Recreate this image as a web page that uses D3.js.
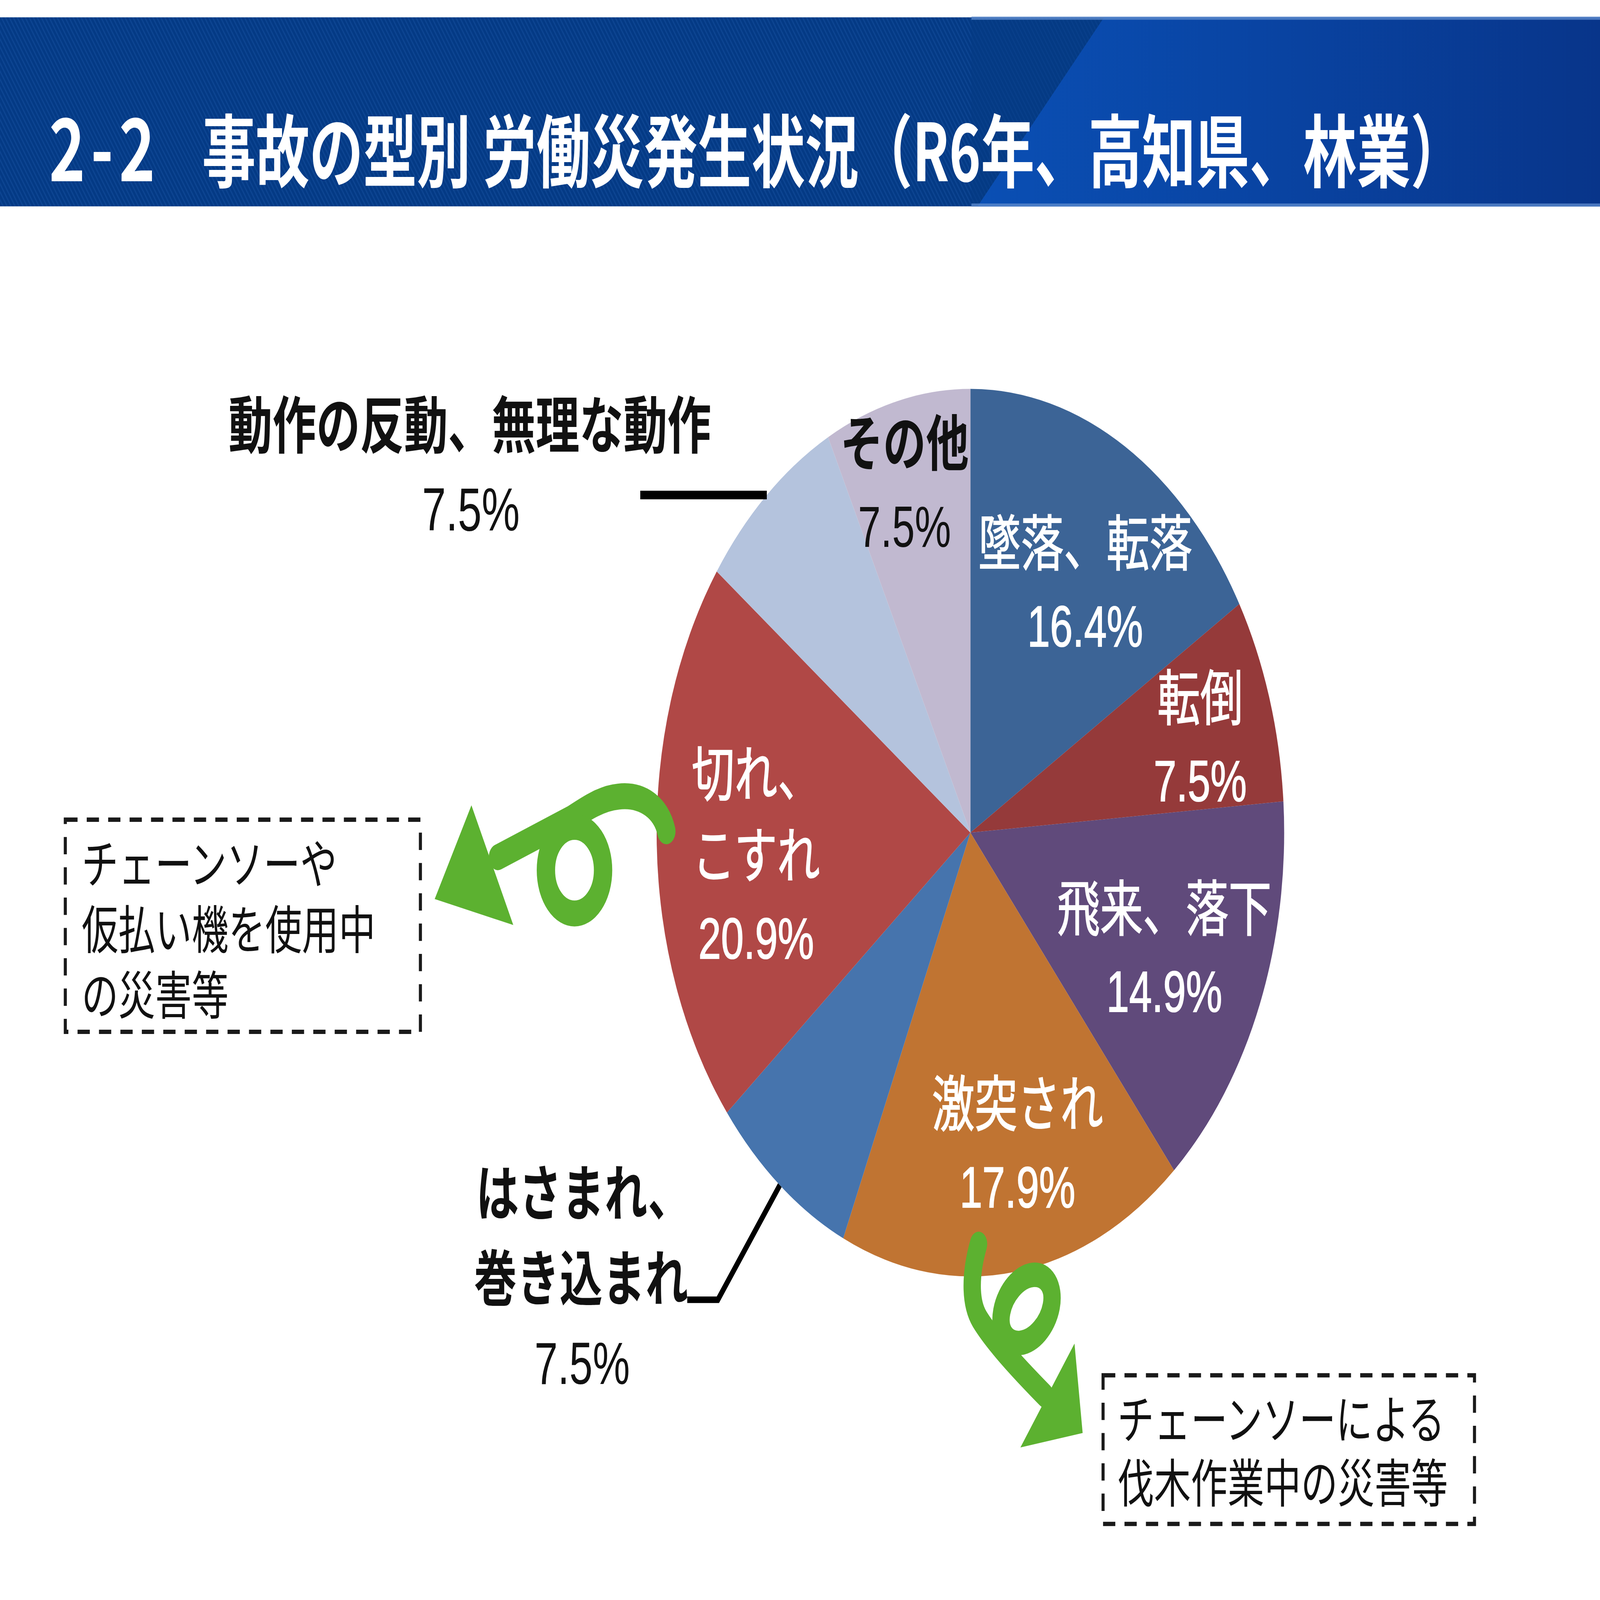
<!DOCTYPE html>
<html>
<head>
<meta charset="utf-8">
<script src="https://cdn.jsdelivr.net/npm/d3@7"></script>
<style>
html,body{margin:0;padding:0;background:#ffffff;width:100%;height:100%;overflow:hidden;}
svg{display:block;position:absolute;left:0;top:0;width:100vw;height:100vh;}
</style>
</head>
<body>
<svg id="chart"></svg>
<script>
// ---------------- DATA ----------------
const categories = ["墜落、転落","転倒","飛来、落下","激突され","はさまれ、巻き込まれ","切れ、こすれ","動作の反動、無理な動作","その他"];
const values = [16.4, 7.5, 14.9, 17.9, 7.5, 20.9, 7.5, 7.5];
const valueLabels = ["16.4%","7.5%","14.9%","17.9%","7.5%","20.9%","7.5%","7.5%"];
const nameLines = [["墜落、転落"],["転倒"],["飛来、落下"],["激突され"],["はさまれ、","巻き込まれ"],["切れ、","こすれ"],["動作の反動、無理な動作"],["その他"]];
const titleNumber = "2-2";
const titleText = "事故の型別 労働災発生状況（R6年、高知県、林業）";
const noteLeft = ["チェーンソーや","仮払い機を使用中","の災害等"];
const noteRight = ["チェーンソーによる","伐木作業中の災害等"];

// ---------------- STYLE / LAYOUT ----------------
const sliceColors = ["#3C6496","#953A3A","#604A7B","#C07432","#4674AD","#B04846","#B4C3DD","#C1B9D0"];
const labelColors = ["#fff","#fff","#fff","#fff","#111","#fff","#111","#111"];
const labelWeights = ["normal","normal","normal","normal","bold","normal","bold","bold"];
// label placement inside slices: angle (deg, clockwise from 12 o'clock) and radius fraction
const labelPolar = [{a:32.7,r:0.677},{a:73.2,r:0.765},{a:112.3,r:0.668},{a:167.8,r:0.71},null,{a:266.5,r:0.684},null,{a:345.2,r:0.822}];

const VW = 1568, VH = VW * 4961 / 7016;
const CX = 951, CY = 577, R = 307.5;
const FONT = "'Liberation Sans','Noto Sans CJK JP',sans-serif";
const CJK = "'Noto Sans CJK JP',sans-serif";
const nameSize = 42, numSize = 40, lineGap = 56.5;

const svg = d3.select("#chart")
  .attr("viewBox", `0 0 ${VW} ${VH}`)
  .attr("preserveAspectRatio","none");

// ---------------- BANNER ----------------
const defs = svg.append("defs");
const pat = defs.append("pattern").attr("id","hatch")
  .attr("width",3.2).attr("height",3.2).attr("patternUnits","userSpaceOnUse")
  .attr("patternTransform","rotate(-35)");
pat.append("rect").attr("width",3.2).attr("height",3.2).attr("fill","#043A85");
pat.append("rect").attr("width",1.1).attr("height",3.2).attr("fill","#0D4592");

const grad = defs.append("linearGradient").attr("id","bgrad")
  .attr("x1","0%").attr("x2","100%").attr("y1","0%").attr("y2","0%");
grad.append("stop").attr("offset","0%").attr("stop-color","#0A4FB4");
grad.append("stop").attr("offset","45%").attr("stop-color","#0944A3");
grad.append("stop").attr("offset","100%").attr("stop-color","#08358A");

const bannerTop = 12, bannerBot = 143;
svg.append("rect").attr("x",0).attr("y",bannerTop).attr("width",VW).attr("height",bannerBot-bannerTop)
  .attr("fill","url(#hatch)");
svg.append("rect").attr("x",952).attr("y",bannerTop).attr("width",VW-952).attr("height",bannerBot-bannerTop)
  .attr("fill","#053A84").attr("opacity",0.55);
svg.append("path")
  .attr("d",`M1082,${bannerTop} L${VW},${bannerTop} L${VW},${bannerBot} L958,${bannerBot} Z`)
  .attr("fill","url(#bgrad)");
svg.append("rect").attr("x",952).attr("y",bannerTop-0.5).attr("width",VW-952).attr("height",2.2)
  .attr("fill","#5A88CC").attr("opacity",0.8);
svg.append("rect").attr("x",952).attr("y",bannerBot-2).attr("width",VW-952).attr("height",2.2)
  .attr("fill","#5A88CC").attr("opacity",0.8);

svg.append("text").attr("x",48).attr("y",125.5)
  .attr("font-family",CJK).attr("font-weight","bold").attr("font-size",60)
  .attr("fill","#fff").attr("textLength",104).attr("lengthAdjust","spacing")
  .text(titleNumber);
svg.append("text").attr("x",198).attr("y",125.5)
  .attr("font-family",CJK).attr("font-weight","bold").attr("font-size",55)
  .attr("fill","#fff").attr("textLength",1237).attr("lengthAdjust","spacingAndGlyphs")
  .text(titleText);

// ---------------- PIE ----------------
const data = categories.map((c,i)=>({name:c, value:values[i], label:valueLabels[i], lines:nameLines[i], i}));
const pie = d3.pie().sort(null).value(d=>d.value).startAngle(0).endAngle(2*Math.PI);
const arcs = pie(data);
const arc = d3.arc().innerRadius(0).outerRadius(R);

const g = svg.append("g").attr("transform",`translate(${CX},${CY})`);
g.selectAll("path.slice").data(arcs).join("path")
  .attr("class","slice")
  .attr("d",arc)
  .attr("fill",d=>sliceColors[d.data.i]);

function polar(angDeg, rad){
  const a = angDeg*Math.PI/180;
  return [Math.sin(a)*rad, -Math.cos(a)*rad];
}

function drawBlock(parent, x, cy, lines, value, color, weight){
  const n = lines.length + 1;
  const total = 36 + (n-1)*lineGap;
  const b0 = cy - total/2 + 36;
  const t = parent.append("text").attr("fill",color).attr("text-anchor","middle");
  if(weight === "normal") t.attr("stroke",color).attr("stroke-width",0.6);
  lines.forEach((ln,k)=>{
    t.append("tspan").attr("x",x).attr("y",b0+k*lineGap)
      .attr("font-family",FONT).attr("font-size",nameSize).attr("font-weight",weight)
      .text(ln);
  });
  t.append("tspan").attr("x",x).attr("y",b0+lines.length*lineGap)
    .attr("font-family",FONT).attr("font-size",numSize).attr("font-weight","normal")
    .text(value);
  return t;
}

arcs.forEach(d=>{
  const i = d.data.i;
  const lp = labelPolar[i];
  if(!lp) return;
  const [x,y] = polar(lp.a, lp.r*R);
  drawBlock(g, x, y, d.data.lines, d.data.label, labelColors[i], labelWeights[i]);
});

// external label: 動作の反動、無理な動作 (leader horizontal to the left)
{
  const d = arcs[6];
  const mid = (d.startAngle+d.endAngle)/2*180/Math.PI;
  const [ex,ey] = polar(mid, R);
  const lx = ex - 124;
  g.append("line").attr("x1",ex).attr("y1",ey).attr("x2",lx).attr("y2",ey)
    .attr("stroke","#000").attr("stroke-width",6);
  const tx = lx - 167;
  g.append("text").attr("x",tx).attr("y",ey-32.5).attr("text-anchor","middle")
    .attr("font-family",FONT).attr("font-size",43).attr("font-weight","bold").attr("fill","#111")
    .text(d.data.lines[0]);
  g.append("text").attr("x",tx+1).attr("y",ey+24.5).attr("text-anchor","middle")
    .attr("font-family",FONT).attr("font-size",42).attr("fill","#111")
    .text(d.data.label);
}

// external label: はさまれ、巻き込まれ (elbow leader)
{
  const d = arcs[4];
  const mid = (d.startAngle+d.endAngle)/2*180/Math.PI;
  const [ex,ey] = polar(mid, R);
  const [bx,by] = polar(mid, R*1.325);
  const hx = bx - 30;
  g.append("path").attr("d",`M${ex},${ey} L${bx},${by} L${hx},${by}`)
    .attr("fill","none").attr("stroke","#000").attr("stroke-width",4.5).attr("stroke-linejoin","miter");
  const t = g.append("text").attr("fill","#111").attr("font-family",FONT);
  t.append("tspan").attr("x",hx-207).attr("y",by-58.5).attr("font-size",42).attr("font-weight","bold")
    .text(d.data.lines[0]);
  t.append("tspan").attr("x",hx-104).attr("y",by+0.5).attr("font-size",42).attr("font-weight","bold")
    .attr("text-anchor","middle").text(d.data.lines[1]);
  t.append("tspan").attr("x",hx-103).attr("y",by+58.5).attr("font-size",41).attr("font-weight","normal")
    .attr("text-anchor","middle").text(d.data.label);
}

// ---------------- NOTE BOXES ----------------
function noteBox(x,y,w,h,lines,tx,b0,gap){
  svg.append("rect").attr("x",x).attr("y",y).attr("width",w).attr("height",h)
    .attr("fill","none").attr("stroke","#1a1a1a").attr("stroke-width",3)
    .attr("stroke-dasharray","12 9");
  const t = svg.append("text").attr("font-family",CJK).attr("font-size",36).attr("fill","#111");
  lines.forEach((ln,k)=>{
    t.append("tspan").attr("x",tx).attr("y",b0+k*gap).text(ln);
  });
}
noteBox(64,568,348,147,noteLeft,80,612,45.5);
noteBox(1081,953,364,103,noteRight,1095,997,44);

// ---------------- GREEN CURLY ARROWS ----------------
const green = "#5CB130";
const arrows = svg.append("g").attr("fill","none").attr("stroke",green).attr("stroke-linecap","round");
// left arrow: arc from the slice, hanging loop, line to the head
arrows.append("path")
  .attr("d","M653,576 C648,560 630,550 606,552 C590,553 575,560 560,567 L488,594")
  .attr("stroke-width",18);
arrows.append("ellipse").attr("cx",563).attr("cy",603).attr("rx",28).attr("ry",30)
  .attr("stroke-width",18);
svg.append("polygon").attr("points","462,558 426,623 503,641").attr("fill",green);
// right arrow
arrows.append("path")
  .attr("d","M959,862 C951,882 950,902 960,914 C972,928 995,946 1024,967")
  .attr("stroke-width",17);
arrows.append("ellipse").attr("cx",0).attr("cy",0).attr("rx",28).attr("ry",20)
  .attr("transform","translate(1006,907) rotate(-40)")
  .attr("stroke-width",17);
svg.append("polygon").attr("points","1053,931 1061,993 1000,1003").attr("fill",green);
</script>
</body>
</html>
